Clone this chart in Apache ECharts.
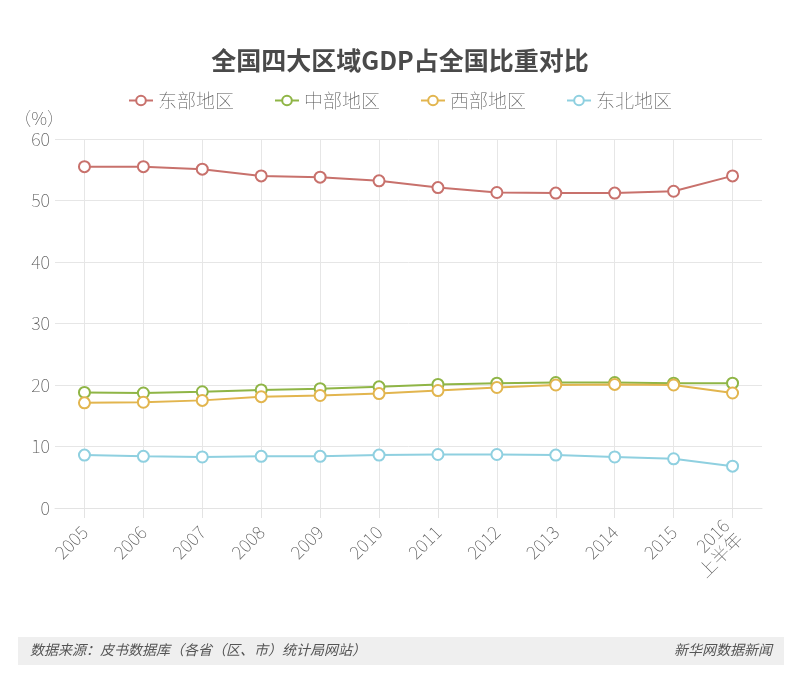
<!DOCTYPE html>
<html>
<head>
<meta charset="utf-8">
<script src="https://cdn.jsdelivr.net/npm/echarts@6/dist/echarts.min.js"></script>
<style>
html,body{margin:0;padding:0;background:#fff;}
#main{width:800px;height:683px;}
</style>
</head>
<body>
<div id="main"></div>
<script>
const categories = ['2005','2006','2007','2008','2009','2010','2011','2012','2013','2014','2015','2016\n上半年'];
const seriesNames = ['东部地区','中部地区','西部地区','东北地区'];
const east = [55.5, 55.5, 55.1, 54.0, 53.8, 53.2, 52.1, 51.3, 51.2, 51.2, 51.5, 54.0];
const central = [18.8, 18.7, 18.9, 19.2, 19.4, 19.7, 20.1, 20.3, 20.4, 20.4, 20.3, 20.3];
const west = [17.1, 17.2, 17.5, 18.1, 18.3, 18.6, 19.1, 19.6, 20.0, 20.1, 20.0, 18.7];
const northeast = [8.6, 8.4, 8.3, 8.4, 8.4, 8.6, 8.7, 8.7, 8.6, 8.3, 8.0, 6.8];
const yTicks = [0, 10, 20, 30, 40, 50, 60];
const colors = ['#c8716c', '#8fb546', '#e2b54e', '#8fd0e0'];
const title = '全国四大区域GDP占全国比重对比';
const sourceText = '数据来源：皮书数据库（各省（区、市）统计局网站）';
const brandText = '新华网数据新闻';

const FONT = '"Noto Sans CJK SC", "Noto Sans", sans-serif';
const chart = echarts.init(document.getElementById('main'));
const values = [east, central, west, northeast];

chart.setOption({
  backgroundColor: '#ffffff',
  animation: false,
  color: colors,
  title: {
    text: title,
    left: 'center',
    top: 43,
    textStyle: { fontSize: 25, fontWeight: 'bold', color: '#4a4a4a', fontFamily: FONT }
  },
  legend: {
    data: seriesNames,
    top: 86,
    left: 'center',
    itemWidth: 24,
    itemHeight: 12,
    itemGap: 40,
    textStyle: { fontSize: 19, color: '#555', fontFamily: FONT, fontWeight: 'lighter' }
  },
  grid: { left: 55, right: 38, top: 139, bottom: 175, containLabel: false },
  xAxis: {
    type: 'category',
    data: categories,
    boundaryGap: true,
    axisLine: { show: true, lineStyle: { color: '#e3e3e3' } },
    axisTick: { show: true, alignWithLabel: true, length: 10, lineStyle: { color: '#e3e3e3' } },
    splitLine: { show: true, alignWithLabel: true, lineStyle: { color: '#e6e6e6' } },
    axisLabel: {
      rotate: 45, fontSize: 18, color: '#555', fontFamily: FONT, margin: 21, lineHeight: 19,
      fontWeight: 'lighter', interval: 0
    }
  },
  yAxis: {
    type: 'value',
    min: yTicks[0],
    max: yTicks[yTicks.length - 1],
    interval: 10,
    name: '（%）',
    nameLocation: 'end',
    nameGap: 12,
    nameTextStyle: { fontSize: 18, color: '#555', fontFamily: FONT, fontWeight: 'lighter', align: 'right', padding: [0, -10, 0, 0] },
    axisLine: { show: false },
    axisTick: { show: false },
    axisLabel: { fontSize: 18, color: '#555', fontFamily: FONT, margin: 5, fontWeight: 'lighter' },
    splitLine: { show: true, lineStyle: { color: '#e6e6e6' } }
  },
  series: seriesNames.map((n, i) => ({
    name: n,
    type: 'line',
    data: values[i],
    symbol: 'emptyCircle',
    symbolSize: 11,
    lineStyle: { width: 2, color: colors[i] },
    itemStyle: { color: colors[i], borderWidth: 2, borderColor: colors[i] }
  })),
  graphic: [
    { type: 'rect', left: 18, top: 637, shape: { width: 766, height: 28 }, style: { fill: '#efefef' } },
    { type: 'text', left: 30, top: 643, style: { text: sourceText, fontSize: 14, fontStyle: 'italic', fill: '#555', fontFamily: FONT } },
    { type: 'text', right: 28, top: 643, style: { text: brandText, fontSize: 14, fontStyle: 'italic', fill: '#555', fontFamily: FONT } }
  ]
});
</script>
</body>
</html>
